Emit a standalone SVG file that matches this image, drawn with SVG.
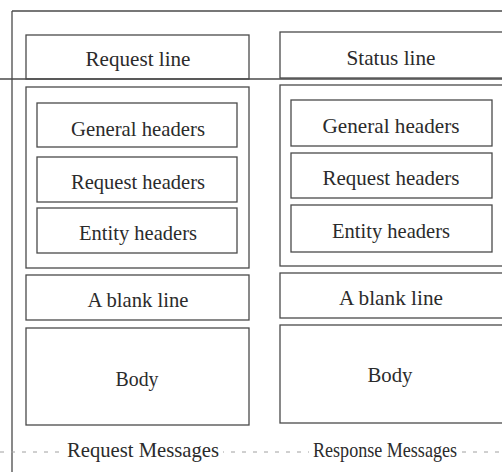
<svg xmlns="http://www.w3.org/2000/svg" width="502" height="472" viewBox="0 0 502 472">
  <style>
    .box { fill: none; stroke: #4a4a4a; stroke-width: 1.3; }
    .rule { stroke: #4a4a4a; stroke-width: 1.3; fill: none; }
    .dash { stroke: #a0a0a0; stroke-width: 1; stroke-dasharray: 4 7; fill: none; }
    .lbl { font-size: 21px; fill: #2b2b2b; text-anchor: middle; }
  </style>
  <rect width="502" height="472" fill="#ffffff"/>

  <!-- page frame rules -->
  <g id="frame">
    <line class="rule" x1="12" y1="11" x2="12" y2="472"/>
    <line class="rule" x1="12" y1="11" x2="502" y2="11"/>
    <line class="rule" x1="0" y1="79" x2="502" y2="79"/>
    <line class="dash" x1="0" y1="452" x2="502" y2="452"/>
  </g>

  <g font-family="'Liberation Serif', 'DejaVu Serif', serif">
  <!-- request message column -->
  <g id="request-line">
    <rect class="box" x="26" y="35" width="223" height="44"/>
    <text class="lbl" x="138" y="66" textLength="105" lengthAdjust="spacingAndGlyphs">Request line</text>
  </g>
  <g id="request-headers-group">
    <rect class="box" x="26" y="87" width="223" height="181"/>
  </g>
  <g id="req-general-headers">
    <rect class="box" x="37" y="103" width="200" height="44"/>
    <text class="lbl" x="138" y="136" textLength="134" lengthAdjust="spacingAndGlyphs">General headers</text>
  </g>
  <g id="req-request-headers">
    <rect class="box" x="37" y="157" width="200" height="45"/>
    <text class="lbl" x="138" y="189" textLength="134" lengthAdjust="spacingAndGlyphs">Request headers</text>
  </g>
  <g id="req-entity-headers">
    <rect class="box" x="37" y="208" width="200" height="45"/>
    <text class="lbl" x="138" y="240" textLength="118" lengthAdjust="spacingAndGlyphs">Entity headers</text>
  </g>
  <g id="req-blank-line">
    <rect class="box" x="26" y="275" width="223" height="45"/>
    <text class="lbl" x="138" y="307" textLength="101" lengthAdjust="spacingAndGlyphs">A blank line</text>
  </g>
  <g id="req-body">
    <rect class="box" x="26" y="328" width="223" height="97"/>
    <text class="lbl" x="137" y="386" textLength="43" lengthAdjust="spacingAndGlyphs">Body</text>
  </g>
  <g id="request-caption">
    <rect x="63" y="440" width="160" height="22" fill="#ffffff"/>
    <text class="lbl" x="143" y="457" textLength="152" lengthAdjust="spacingAndGlyphs">Request Messages</text>
  </g>

  <!-- response message column -->
  <g id="status-line">
    <rect class="box" x="280" y="32" width="240" height="46"/>
    <text class="lbl" x="391" y="65" textLength="89" lengthAdjust="spacingAndGlyphs">Status line</text>
  </g>
  <g id="response-headers-group">
    <rect class="box" x="280" y="85" width="240" height="181"/>
  </g>
  <g id="resp-general-headers">
    <rect class="box" x="291" y="100" width="201" height="46"/>
    <text class="lbl" x="391" y="133" textLength="137" lengthAdjust="spacingAndGlyphs">General headers</text>
  </g>
  <g id="resp-request-headers">
    <rect class="box" x="291" y="153" width="201" height="45"/>
    <text class="lbl" x="391" y="185" textLength="137" lengthAdjust="spacingAndGlyphs">Request headers</text>
  </g>
  <g id="resp-entity-headers">
    <rect class="box" x="291" y="205" width="201" height="47"/>
    <text class="lbl" x="391" y="238" textLength="118" lengthAdjust="spacingAndGlyphs">Entity headers</text>
  </g>
  <g id="resp-blank-line">
    <rect class="box" x="280" y="273" width="240" height="45"/>
    <text class="lbl" x="391" y="305" textLength="104" lengthAdjust="spacingAndGlyphs">A blank line</text>
  </g>
  <g id="resp-body">
    <rect class="box" x="280" y="325" width="240" height="98"/>
    <text class="lbl" x="390" y="382" textLength="45" lengthAdjust="spacingAndGlyphs">Body</text>
  </g>
  <g id="response-caption">
    <rect x="309" y="440" width="152" height="22" fill="#ffffff"/>
    <text class="lbl" x="385" y="457" textLength="144" lengthAdjust="spacingAndGlyphs">Response Messages</text>
  </g>
  </g>
</svg>
